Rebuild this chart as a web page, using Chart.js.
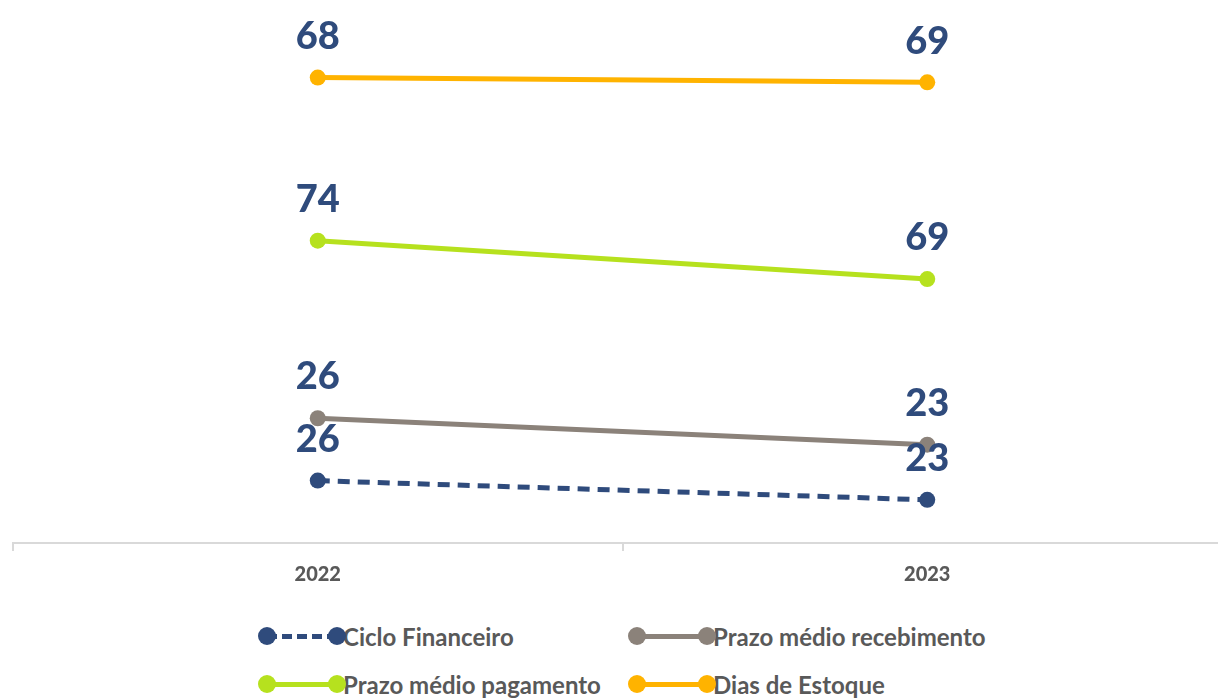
<!DOCTYPE html>
<html lang="pt-BR">
<head>
<meta charset="utf-8">
<script src="https://cdn.jsdelivr.net/npm/chart.js@4"></script>
<style>
    body { margin: 0; background: #fff; overflow: hidden; font-family: Lato, sans-serif; }
    #caixa { position: relative; width: 1240px; height: 700px; }
    .item { position: absolute; height: 26px; display: flex; align-items: center; }
    .simbolo { position: relative; width: 88px; height: 18px; }
    .simbolo .linha { position: absolute; left: 9px; right: 9px; top: 7px; height: 0; border-top: 5px solid; }
    .simbolo .bola { position: absolute; top: 0; width: 18px; height: 18px; border-radius: 50%; }
    .texto { font-weight: bold; font-size: 24px; color: #595959; margin-left: -3px; white-space: nowrap; }
</style>
</head>
<body>
<div id="caixa">
    <canvas id="graficoCiclo" width="1240" height="600"></canvas>
    <div id="legenda"></div>
</div>
<script>
const anos = ['2022', '2023'];

// valores empilhados como aparecem no gráfico
const cicloFinanceiro = [26, 18];
const prazoRecebimento = [26, 23];
const prazoPagamento = [74, 69];
const diasEstoque = [68, 82];

// rótulos escritos sobre os pontos
const rotuloCiclo = ['26', '23'];
const rotuloRecebimento = ['26', '23'];
const rotuloPagamento = ['74', '69'];
const rotuloEstoque = ['68', '69'];

const series = [
    { nome: 'Ciclo Financeiro', dados: cicloFinanceiro, rotulos: rotuloCiclo, cor: '#2F4B7C', tracejado: [12, 8] },
    { nome: 'Prazo médio recebimento', dados: prazoRecebimento, rotulos: rotuloRecebimento, cor: '#8B827A', tracejado: [] },
    { nome: 'Prazo médio pagamento', dados: prazoPagamento, rotulos: rotuloPagamento, cor: '#B6E11E', tracejado: [] },
    { nome: 'Dias de Estoque', dados: diasEstoque, rotulos: rotuloEstoque, cor: '#FFB300', tracejado: [] },
];

const rotulosPlugin = {
    id: 'rotulosPontos',
    afterDatasetsDraw(chart) {
        const ctx = chart.ctx;
        ctx.save();
        ctx.font = '900 38px Lato';
        ctx.fillStyle = '#2F4B7C';
        ctx.textAlign = 'center';
        ctx.textBaseline = 'middle';
        chart.data.datasets.forEach((ds, i) => {
            const meta = chart.getDatasetMeta(i);
            meta.data.forEach((ponto, j) => {
                ctx.fillText(series[i].rotulos[j], ponto.x, ponto.y - 41);
            });
        });
        ctx.restore();
    }
};

const contexto = document.getElementById('graficoCiclo').getContext('2d');
new Chart(contexto, {
    type: 'line',
    data: {
        labels: anos,
        datasets: series.map(s => ({
            label: s.nome,
            data: s.dados,
            borderColor: s.cor,
            backgroundColor: s.cor,
            borderWidth: 5,
            borderDash: s.tracejado,
            pointRadius: 8,
            pointHoverRadius: 8,
            pointBorderWidth: 0,
            fill: false,
            tension: 0,
        })),
    },
    options: {
        responsive: false,
        animation: false,
        devicePixelRatio: 1,
        layout: { padding: { left: 13, right: 7, top: 2, bottom: 1 } },
        plugins: {
            legend: { display: false },
            tooltip: { enabled: false },
        },
        scales: {
            x: {
                offset: true,
                grid: {
                    offset: true,
                    drawOnChartArea: false,
                    drawTicks: true,
                    tickLength: 8,
                    color: '#D9D9D9',
                    lineWidth: 2,
                },
                border: { color: '#D9D9D9', width: 2 },
                ticks: {
                    color: '#595959',
                    font: { family: 'Lato', weight: '900', size: 20 },
                    padding: 12,
                },
            },
            y: {
                display: false,
                stacked: true,
                min: 0,
                max: 223,
            },
        },
    },
    plugins: [rotulosPlugin],
});

// legenda no estilo do Excel
const posicoes = [[258, 636], [628, 636], [258, 684], [628, 684]];
const legenda = document.getElementById('legenda');
series.forEach((s, i) => {
    const item = document.createElement('div');
    item.className = 'item';
    item.style.left = posicoes[i][0] + 'px';
    item.style.top = (posicoes[i][1] - 13) + 'px';
    const estiloLinha = s.tracejado.length ? 'dashed' : 'solid';
    item.innerHTML = `
        <div class="simbolo">
            <div class="linha" style="border-top-color:${s.cor};border-top-style:${estiloLinha}"></div>
            <div class="bola" style="left:0;background:${s.cor}"></div>
            <div class="bola" style="right:0;background:${s.cor}"></div>
        </div>
        <span class="texto">${s.nome}</span>`;
    legenda.appendChild(item);
});
</script>
</body>
</html>
